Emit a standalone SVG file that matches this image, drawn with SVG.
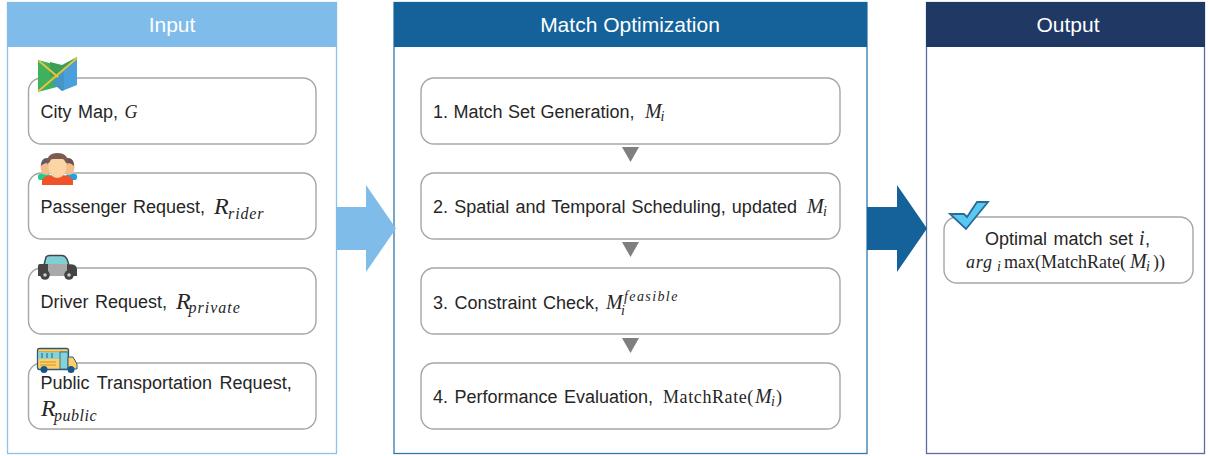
<svg xmlns="http://www.w3.org/2000/svg" width="1210" height="456" viewBox="0 0 1210 456">
<style>
.panel{fill:#fff;stroke-width:1.3}
.box{fill:#fff;stroke:#a6a6a6;stroke-width:1.4}
.hd{font:21px "Liberation Sans",Arial,sans-serif;fill:#fff;text-anchor:middle}
.t{font:18px "Liberation Sans",Arial,sans-serif;fill:#262626;word-spacing:1.5px}
.m{font:italic 20px "Liberation Serif","Times New Roman",serif;fill:#262626}
.mb{font:italic 24px "Liberation Serif","Times New Roman",serif;fill:#262626}
.s{font:italic 16px "Liberation Serif","Times New Roman",serif;fill:#262626;letter-spacing:.9px}
.ss{font:italic 14px "Liberation Serif","Times New Roman",serif;fill:#262626}
.r{font:18px "Liberation Serif","Times New Roman",serif;fill:#262626}
.tri{fill:#7f7f7f}
</style>
<g id="panel-input">
<rect class="panel" x="7.500" y="2.500" width="329" height="451" stroke="#8cc3ec"/>
<rect x="7" y="2" width="330" height="45" fill="#7fbcea"/>
<text class="hd" x="172" y="32">Input</text>
</g>
<g id="panel-match">
<rect class="panel" x="394" y="2.500" width="473" height="451" stroke="#2f78ae"/>
<rect x="394" y="2" width="473" height="45" fill="#15629b"/>
<text class="hd" x="630" y="32">Match Optimization</text>
</g>
<g id="panel-output">
<rect class="panel" x="926.500" y="2.500" width="278" height="451" stroke="#5a6f9c"/>
<rect x="926" y="2" width="279" height="45" fill="#1f3864"/>
<text class="hd" x="1068" y="32">Output</text>
</g>
<g id="connectors">
<polygon points="336,207 366,207 366,185 396,228.500 366,272 366,250 336,250" fill="#7fbcea"/>
<polygon points="867,207 897,207 897,185 927,228.500 897,272 897,250 867,250" fill="#15629b"/>
<polygon class="tri" points="622,147 639,147 630.500,162"/>
<polygon class="tri" points="622,242 639,242 630.500,257"/>
<polygon class="tri" points="622,338 639,338 630.500,353"/>
</g>
<g id="node-city-map">
<rect class="box" x="28.500" y="78" width="287.500" height="66" rx="13"/>
<polygon points="38,60 57,65 57,87 38,92" fill="#3fb05c"/>
<polygon points="50,62 62,65 77,57 64,76 50,76" fill="#3d9e56"/>
<polygon points="57,78 64,70 77,57 77,85 62,91 57,86" fill="#4a9fdc"/>
<polygon points="52,83 64,71 64,90 62,91 57,87" fill="#4595c8"/>
<path d="M38,91.500 L77,58 M39,61 L58,77" stroke="#e6c340" stroke-width="2" fill="none"/>
<text class="t" x="40.500" y="118">City Map,</text>
<text class="m" x="124.500" y="118" style="font-size:18px">G</text>
</g>
<g id="node-passenger">
<rect class="box" x="28.500" y="173" width="287.500" height="66" rx="13"/>
<rect x="38" y="174" width="12" height="6" rx="2" fill="#1fce8a"/>
<rect x="66" y="174" width="11" height="6" rx="2" fill="#1fa5e6"/>
<ellipse cx="46" cy="167" rx="5.500" ry="8" fill="#f2bd8b"/><ellipse cx="69" cy="167" rx="5.500" ry="8" fill="#f2bd8b"/>
<path d="M41,166 Q41,158 47,158 Q52,158 52,163 Q45,162 41,166 Z" fill="#5d5a70"/>
<path d="M74,166 Q74,158 68,158 Q63,158 63,163 Q70,162 74,166 Z" fill="#6d4f52"/>
<path d="M42,185 L42,180 Q43,176 52,175 L63,175 Q72,176 73,180 L73,185 Z" fill="#f0522a"/>
<ellipse cx="57.500" cy="167" rx="9" ry="11" fill="#fbd5a5"/>
<path d="M47,165 Q46,153 57.500,153 Q69,153 68,165 Q66,159 62,159 L53,159 Q49,159 47,165 Z" fill="#7d5a52"/>
<text class="t" x="40.500" y="213">Passenger Request,</text>
<text class="mb" x="214" y="214">R</text><text class="s" x="228" y="219">rider</text>
</g>
<g id="node-driver">
<rect class="box" x="28.500" y="268" width="287.500" height="66" rx="13"/>
<path d="M44,265 L46,257 Q47,255.500 50,255.500 L62,255.500 Q65,255.500 67,259 L69,265 Z" fill="#7fcfd6" stroke="#444" stroke-width="1.500"/>
<path d="M38,268 Q38,264 42,264 L72,264 Q77,265 77,270 L77,274 Q77,276 74,276 L40,276 Q38,276 38,274 Z" fill="#a9a9a9"/>
<path d="M38,266 Q38,264 40,264 L48,264 L48,276 L38,276 Z M67,264 L74,265 Q77,266 77,270 L77,276 L67,276 Z" fill="#444"/>
<circle cx="45" cy="275" r="4.800" fill="#444"/><circle cx="45" cy="275" r="1.800" fill="#ccc"/>
<circle cx="69" cy="275" r="4.800" fill="#444"/><circle cx="69" cy="275" r="1.800" fill="#ccc"/>
<text class="t" x="40.500" y="308">Driver Request,</text>
<text class="mb" x="176" y="309">R</text><text class="s" x="188.500" y="313" style="letter-spacing:1px">private</text>
</g>
<g id="node-public">
<rect class="box" x="28.500" y="363" width="287.500" height="66" rx="13"/>
<rect x="37.500" y="348.500" width="31" height="21" rx="2" fill="#ffcf66" stroke="#2b5a7a" stroke-width="1.300"/>
<rect x="38" y="351" width="30" height="8" fill="#86d2d6"/>
<path d="M38,351.500 H68" stroke="#d9a84a" stroke-width="1"/>
<path d="M42,353 V358 M47,353 V358 M52,353 V358" stroke="#2b5a7a" stroke-width="1"/>
<rect x="60" y="352" width="8" height="17" fill="#86d2d6" stroke="#2b5a7a" stroke-width=".8"/>
<path d="M68,357 L73,357 L77,364 L77,369 L68,369 Z" fill="#ffcf66" stroke="#2b5a7a" stroke-width="1"/>
<path d="M40,362 L56,362 M40,365 L56,365" stroke="#c9952f" stroke-width="1"/>
<circle cx="44" cy="369.500" r="3.500" fill="#15558a"/><circle cx="71" cy="369.500" r="3.500" fill="#15558a"/>
<text class="t" x="40.500" y="389" style="word-spacing:2.500px">Public Transportation Request,</text>
<text class="mb" x="41" y="416">R</text><text class="s" x="54" y="421" style="letter-spacing:.5px">public</text>
</g>
<g id="node-step1">
<rect class="box" x="421" y="78" width="419" height="66" rx="13"/>
<text class="t" x="433" y="118" style="word-spacing:.5px">1. Match Set Generation,</text>
<text class="m" x="645" y="118">M</text><text class="ss" x="660.500" y="121">i</text>
</g>
<g id="node-step2">
<rect class="box" x="421" y="173" width="419" height="66" rx="13"/>
<text class="t" x="433" y="213" style="word-spacing:1.200px">2. Spatial and Temporal Scheduling, updated</text>
<text class="m" x="807" y="213">M</text><text class="ss" x="823" y="216">i</text>
</g>
<g id="node-step3">
<rect class="box" x="421" y="268" width="419" height="66" rx="13"/>
<text class="t" x="433" y="309">3. Constraint Check,</text>
<text class="m" x="606" y="309">M</text><text class="ss" x="621" y="315">i</text>
<text class="ss" x="624" y="301" letter-spacing="1.400">feasible</text>
</g>
<g id="node-step4">
<rect class="box" x="421" y="363" width="419" height="66" rx="13"/>
<text class="t" x="433" y="403">4. Performance Evaluation,</text>
<text class="r" x="663" y="403" style="letter-spacing:.6px">MatchRate(</text><text class="m" x="755" y="403">M</text><text class="ss" x="771" y="406">i</text><text class="r" x="776" y="403">)</text>
</g>
<g id="node-optimal">
<rect class="box" x="944" y="217" width="249" height="66" rx="13"/>
<polygon points="950,214 964,214 967,217 977,202 988,202 966,229" fill="#5ac8f2" stroke="#2a6a96" stroke-width="1.800"/>
<text class="t" x="985" y="245">Optimal match set</text>
<text class="m" x="1139" y="245">i</text><text class="t" x="1145" y="245">,</text>
<text class="m" x="966" y="268" style="font-size:18px;letter-spacing:.8px">arg</text><text class="ss" x="997" y="271">i</text>
<text class="r" x="1004" y="268">max(MatchRate(</text><text class="m" x="1130" y="268">M</text><text class="ss" x="1146" y="271">i</text><text class="r" x="1153" y="268">))</text>
</g>
</svg>
